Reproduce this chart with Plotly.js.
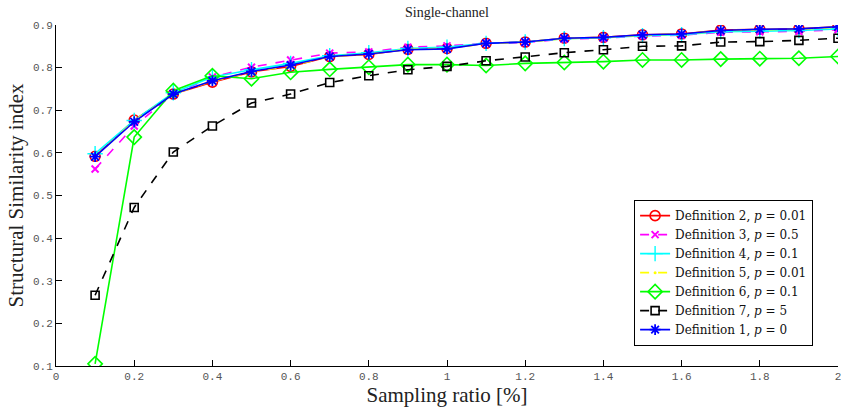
<!DOCTYPE html>
<html>
<head>
<meta charset="utf-8">
<script src="https://cdn.plot.ly/plotly-3.0.1.min.js"></script>
<style>html,body{margin:0;padding:0;background:#fff;}#chart{width:841px;height:409px;}</style>
</head>
<body>
<div id="chart"></div>
<script>
const ratios = [0.1,0.2,0.3,0.4,0.5,0.6,0.7,0.8,0.9,1.0,1.1,1.2,1.3,1.4,1.5,1.6,1.7,1.8,1.9,2.0];
const def2 = [0.592,0.677,0.738,0.766,0.790,0.803,0.826,0.831,0.843,0.845,0.857,0.860,0.869,0.871,0.877,0.879,0.888,0.890,0.891,0.896];
const def3 = [0.562,0.663,0.738,0.778,0.801,0.818,0.834,0.837,0.848,0.851,0.857,0.859,0.867,0.869,0.874,0.876,0.883,0.884,0.885,0.889];
const def4 = [0.598,0.676,0.741,0.778,0.795,0.810,0.828,0.835,0.845,0.848,0.857,0.860,0.868,0.870,0.875,0.877,0.884,0.886,0.887,0.891];
const def5 = [0.591,0.675,0.738,0.768,0.790,0.804,0.826,0.832,0.843,0.845,0.856,0.860,0.868,0.871,0.876,0.879,0.886,0.889,0.890,0.895];
const def6 = [0.105,0.637,0.746,0.781,0.774,0.789,0.796,0.801,0.807,0.807,0.805,0.810,0.812,0.814,0.818,0.818,0.820,0.821,0.822,0.826];
const def7 = [0.266,0.472,0.602,0.663,0.717,0.738,0.765,0.781,0.795,0.803,0.816,0.825,0.835,0.842,0.850,0.851,0.860,0.861,0.864,0.869];
const def1 = [0.591,0.673,0.738,0.769,0.791,0.806,0.826,0.832,0.842,0.844,0.857,0.860,0.869,0.871,0.877,0.879,0.887,0.890,0.891,0.896];
const names = [
  'Definition 2, <i>p</i> = 0.01',
  'Definition 3, <i>p</i> = 0.5',
  'Definition 4, <i>p</i> = 0.1',
  'Definition 5, <i>p</i> = 0.01',
  'Definition 6, <i>p</i> = 0.1',
  'Definition 7, <i>p</i> = 5',
  'Definition 1, <i>p</i> = 0'
];
const xTicks = [0,0.2,0.4,0.6,0.8,1,1.2,1.4,1.6,1.8,2];
const xTickText = ['0','0.2','0.4','0.6','0.8','1','1.2','1.4','1.6','1.8','2'];
const yTicks = [0.1,0.2,0.3,0.4,0.5,0.6,0.7,0.8,0.9];
const yTickText = ['0.1','0.2','0.3','0.4','0.5','0.6','0.7','0.8','0.9'];

function tr(y, name, color, dash, symbol, size, lw) {
  return {
    x: ratios, y: y, name: name, type: 'scatter', mode: 'lines+markers',
    line: {color: color, width: 1.6, dash: dash},
    marker: {symbol: symbol, size: size, color: color, line: {color: color, width: lw}}
  };
}
const data = [
  tr(def2, names[0], '#ff0000', 'solid', 'circle-open', 10, 1.6),
  tr(def3, names[1], '#ff00ff', 'dash', 'x-thin-open', 7, 2),
  tr(def4, names[2], '#00ffff', 'solid', 'cross-thin-open', 11, 1.4),
  tr(def5, names[3], '#ffff00', 'dash', 'circle', 3, 0),
  tr(def6, names[4], '#00ff00', 'solid', 'diamond-open', 11, 1.6),
  tr(def7, names[5], '#000000', 'dash', 'square-open', 8, 1.6),
  tr(def1, names[6], '#0000ff', 'solid', 'asterisk-open', 9, 1.8)
];

const tickFont = {family: 'Liberation Mono, DejaVu Sans Mono, monospace', size: 11, color: '#555'};
const serif = 'Liberation Serif, DejaVu Serif, serif';

const layout = {
  width: 841, height: 409,
  margin: {l: 56, r: 3, t: 25, b: 43, pad: 0},
  paper_bgcolor: '#fff', plot_bgcolor: '#fff',
  showlegend: true,
  title: {text: 'Single-channel', font: {family: serif, size: 14, color: '#222'}, x: 0.5, xref: 'paper', y: 0.97, yref: 'container', yanchor: 'middle'},
  xaxis: {
    range: [0, 2], tickvals: xTicks, ticktext: xTickText, ticklabeloverflow: 'allow',
    showgrid: false, zeroline: false, showline: true, linecolor: '#000', linewidth: 1,
    ticks: 'inside', ticklen: 6, tickcolor: '#000', tickfont: tickFont,
    title: {text: 'Sampling ratio [%]', font: {family: serif, size: 21, color: '#222'}, standoff: 2}
  },
  yaxis: {
    range: [0.1, 0.9], tickvals: yTicks, ticktext: yTickText, ticklabeloverflow: 'allow',
    showgrid: false, zeroline: false, showline: true, linecolor: '#000', linewidth: 1,
    ticks: 'inside', ticklen: 6, tickcolor: '#000', tickfont: tickFont,
    title: {text: 'Structural Similarity index', font: {family: serif, size: 21, color: '#222'}, standoff: 3}
  },
  legend: {
    x: 0.739, y: 0.487, xanchor: 'left', yanchor: 'top',
    bgcolor: '#fff', bordercolor: '#000', borderwidth: 1.2,
    font: {family: 'DejaVu Serif, Liberation Serif, serif', size: 12, color: '#111'},
    tracegroupgap: 0, itemwidth: 30
  }
};
Plotly.newPlot('chart', data, layout, {displayModeBar: false, staticPlot: true});
</script>
</body>
</html>
